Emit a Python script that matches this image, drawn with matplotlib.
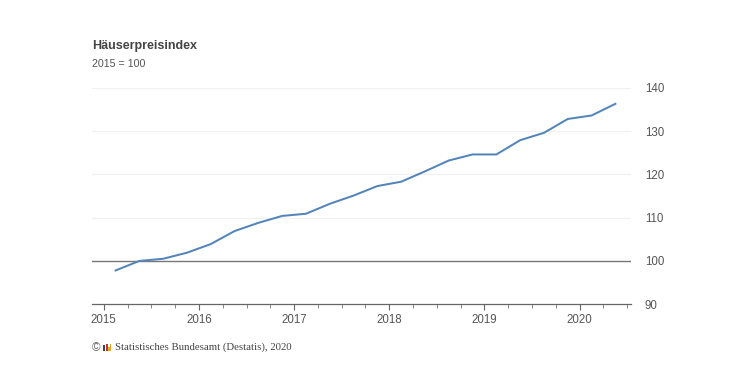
import matplotlib
matplotlib.use("Agg")
import matplotlib.pyplot as plt
from matplotlib.patches import Rectangle

quarters = [2015.125, 2015.375, 2015.625, 2015.875,
            2016.125, 2016.375, 2016.625, 2016.875,
            2017.125, 2017.375, 2017.625, 2017.875,
            2018.125, 2018.375, 2018.625, 2018.875,
            2019.125, 2019.375, 2019.625, 2019.875,
            2020.125, 2020.375]
index_values = [97.8, 100.0, 100.5, 101.9,
                103.9, 106.9, 108.8, 110.4,
                110.9, 113.2, 115.1, 117.3,
                118.3, 120.7, 123.2, 124.6,
                124.6, 127.9, 129.6, 132.8,
                133.6, 136.3]
year_ticks = [2015, 2016, 2017, 2018, 2019, 2020]
quarter_ticks = [y + q for y in year_ticks for q in (0.25, 0.5, 0.75) if y + q < 2020.6]
y_ticks = [90, 100, 110, 120, 130, 140]

W, H = 740, 383
fig = plt.figure(figsize=(W / 100, H / 100), dpi=100, facecolor="white")
plt.rcParams["font.family"] = ["Liberation Sans", "DejaVu Sans"]

L, R, T, B = 92, 631, 87.8, 304.2
ax = fig.add_axes([L / W, 1 - B / H, (R - L) / W, (B - T) / H])
ax.set_xlim(2014.877, 2020.539)
ax.set_ylim(90, 140)

for side in ("top", "left", "right"):
    ax.spines[side].set_visible(False)
ax.spines["bottom"].set_color("#666666")
ax.spines["bottom"].set_linewidth(0.9)

ax.yaxis.tick_right()
ax.set_yticks(y_ticks)
ax.tick_params(axis="y", length=0, pad=10, labelsize=8.3, labelcolor="#555555")
ax.set_xticks(year_ticks)
ax.set_xticks(quarter_ticks, minor=True)
ax.tick_params(axis="x", which="major", length=4, width=0.8, color="#666666",
               pad=3, labelsize=8.3, labelcolor="#555555")
ax.tick_params(axis="x", which="minor", length=2.8, width=0.7, color="#888888")

for y in y_ticks[2:]:
    ax.axhline(y, color="#f1f1f1", lw=0.9, zorder=1)
ax.axhline(100, color="#777777", lw=1.0, zorder=2)
ax.plot(quarters, index_values, color="#5485ba", lw=1.45, zorder=3,
        solid_joinstyle="round", clip_on=False)

fig.text(92 / W, 1 - 45.5 / H, "Häuserpreisindex", fontsize=9.0, fontweight="bold",
         color="#444444", va="center", ha="left")
fig.text(92 / W, 1 - 64 / H, "2015 = 100", fontsize=7.7, color="#555555",
         va="center", ha="left")

fig.text(92.3 / W, 1 - 348 / H, "©", fontsize=8.5, color="#666666", va="center", ha="left",
         family="Liberation Sans")
fig.text(115 / W, 1 - 347.5 / H, "Statistisches Bundesamt (Destatis), 2020", fontsize=7.75,
         color="#444444", va="center", ha="left", family="Liberation Serif")

# small Destatis logo
for x0, y0, w, h, c in [(103.0, 345, 1.8, 6, "#444444"),
                        (105.6, 344, 2.0, 7, "#c8323c"),
                        (108.2, 347, 1.6, 4, "#e0b020"),
                        (109.8, 344, 1.5, 7, "#e8a020")]:
    fig.add_artist(Rectangle((x0 / W, 1 - (y0 + h) / H), w / W, h / H,
                             transform=fig.transFigure, color=c, lw=0))

fig.savefig("out.png", dpi=100, facecolor="white")
